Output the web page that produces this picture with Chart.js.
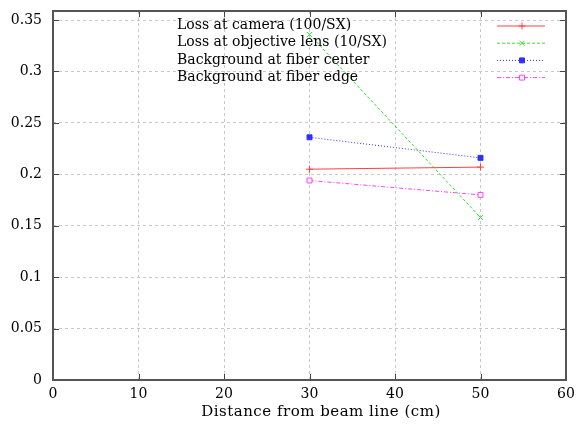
<!DOCTYPE html>
<html lang="en">
<head>
    <meta charset="UTF-8">
    <title>Loss vs distance</title>
    <script src="https://cdn.jsdelivr.net/npm/chart.js"></script>
    <style>
body {
    margin: 0;
    padding: 0;
    background: white;
}
#wrap {
    width: 577px;
    height: 426px;
}
    </style>
</head>
<body>
    <div id="wrap"><canvas id="lossChart"></canvas></div>

    <script>
        // values
        const distances = [30, 50];
        const lossCamera = [0.205, 0.207];
        const lossObjective = [0.336, 0.158];
        const bgCenter = [0.236, 0.216];
        const bgEdge = [0.194, 0.180];
        const seriesNames = [
            "Loss at camera (100/SX)",
            "Loss at objective lens (10/SX)",
            "Background at fiber center",
            "Background at fiber edge"
        ];
        const xTicks = [0, 10, 20, 30, 40, 50, 60];
        const yTicks = [0, 0.05, 0.1, 0.15, 0.2, 0.25, 0.3, 0.35];
        const xTitle = "Distance from beam line (cm)";

        const serif = "'DejaVu Serif', 'Liberation Serif', serif";

        function pts(ys) {
            return distances.map((x, i) => ({ x: x, y: ys[i] }));
        }

        // frame + inward tick marks + gnuplot style key + axis title
        const gnuplotLook = {
            id: "gnuplotLook",
            afterDatasetsDraw(chart) {
                const ctx = chart.ctx;
                const a = chart.chartArea;
                const xs = chart.scales.x, ys = chart.scales.y;
                ctx.save();
                ctx.strokeStyle = "#444";
                ctx.lineWidth = 1;
                ctx.beginPath();
                xTicks.forEach(t => {
                    const px = Math.round(xs.getPixelForValue(t)) + 0.5;
                    ctx.moveTo(px, a.bottom); ctx.lineTo(px, a.bottom - 6);
                    ctx.moveTo(px, a.top); ctx.lineTo(px, a.top + 6);
                });
                yTicks.forEach(t => {
                    const py = Math.round(ys.getPixelForValue(t)) + 0.5;
                    ctx.moveTo(a.left, py); ctx.lineTo(a.left + 6, py);
                    ctx.moveTo(a.right, py); ctx.lineTo(a.right - 6, py);
                });
                ctx.stroke();
                ctx.strokeStyle = "#555";
                ctx.lineWidth = 2;
                ctx.strokeRect(a.left, a.top, a.right - a.left, a.bottom - a.top);

                // x axis title
                ctx.font = "15px " + serif;
                ctx.letterSpacing = "0.5px";
                ctx.fillStyle = "#000";
                ctx.textAlign = "center";
                ctx.textBaseline = "middle";
                ctx.fillText(xTitle, 321, 412);
                ctx.letterSpacing = "0px";

                // key
                ctx.font = "14px " + serif;
                ctx.textAlign = "left";
                chart.data.datasets.forEach((ds, i) => {
                    const y = 25.5 + i * 17.2;
                    ctx.fillStyle = "#000";
                    ctx.fillText(ds.label, 177, y);
                    ctx.strokeStyle = ds.borderColor;
                    ctx.lineWidth = 1;
                    ctx.setLineDash(ds.borderDash || []);
                    ctx.beginPath();
                    ctx.moveTo(497, y + 0.5); ctx.lineTo(545, y + 0.5);
                    ctx.stroke();
                    ctx.setLineDash([]);
                    ctx.fillStyle = ds.backgroundColor;
                    Chart.helpers.drawPoint(ctx, {
                        pointStyle: ds.pointStyle,
                        radius: ds.pointRadius,
                        borderWidth: 1,
                        rotation: 0
                    }, 522, y + 0.5);
                });
                ctx.restore();
            }
        };

        const styles = [
            { color: "#ff4040", dash: [], point: "cross", fill: false },
            { color: "#30e030", dash: [3, 2], point: "crossRot", fill: false },
            { color: "#3030ff", dash: [1, 2], point: "rect", fill: true },
            { color: "#ff40ff", dash: [4, 2, 1, 2], point: "rect", fill: false }
        ];
        const values = [lossCamera, lossObjective, bgCenter, bgEdge];

        new Chart(document.getElementById("lossChart").getContext("2d"), {
            type: "line",
            data: {
                datasets: values.map((v, i) => ({
                    label: seriesNames[i],
                    data: pts(v),
                    borderColor: styles[i].color,
                    backgroundColor: styles[i].fill ? styles[i].color : "white",
                    borderDash: styles[i].dash,
                    borderWidth: 1,
                    pointStyle: styles[i].point,
                    pointRadius: 3.5,
                    pointBorderWidth: 1,
                    tension: 0
                }))
            },
            options: {
                responsive: true,
                maintainAspectRatio: false,
                animation: false,
                layout: { padding: { left: 0, right: 11, top: 11, bottom: 0 } },
                plugins: {
                    legend: { display: false },
                    tooltip: { enabled: false }
                },
                scales: {
                    x: {
                        type: "linear",
                        min: 0,
                        max: 60,
                        afterBuildTicks: s => { s.ticks = xTicks.map(v => ({ value: v })); },
                        afterFit: s => { s.height = 46; s.paddingLeft = 0; s.paddingRight = 0; },
                        grid: { color: "#c8c8c8", drawTicks: false },
                        border: { display: false, dash: [3, 3] },
                        ticks: {
                            color: "#000",
                            padding: 6,
                            font: { family: serif, size: 14 }
                        }
                    },
                    y: {
                        min: 0,
                        max: 0.3588,
                        afterBuildTicks: s => { s.ticks = yTicks.map(v => ({ value: v })); },
                        afterFit: s => { s.width = 53; s.paddingTop = 0; s.paddingBottom = 0; },
                        grid: { color: "#c8c8c8", drawTicks: false },
                        border: { display: false, dash: [3, 3] },
                        ticks: {
                            color: "#000",
                            padding: 11,
                            font: { family: serif, size: 14 },
                            callback: v => String(+v.toFixed(2))
                        }
                    }
                }
            },
            plugins: [gnuplotLook]
        });
    </script>
</body>
</html>
